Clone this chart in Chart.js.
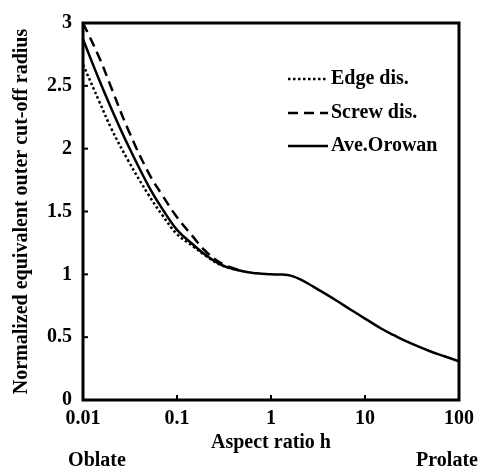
<!DOCTYPE html>
<html><head><meta charset="utf-8">
<script src="https://cdn.jsdelivr.net/npm/chart.js@4"></script>
<style>html,body{margin:0;padding:0;background:#fff}#wrap{width:483px;height:472px}</style>
</head><body><div id="wrap"><canvas id="c" width="483" height="472"></canvas></div>
<script>
const aspectRatios = [0.01,0.015,0.02,0.03,0.05,0.07,0.1,0.15,0.2,0.3,0.5,0.7,1,1.25,1.5,1.75,2,2.5,3,5,7,10,15,20,30,50,70,100];
const orowanValues = [2.87,2.54,2.32,2.03,1.70,1.52,1.354,1.233,1.156,1.074,1.025,1.008,1.0,0.999,0.995,0.982,0.963,0.925,0.89,0.79,0.72,0.648,0.567,0.518,0.454,0.386,0.348,0.308];
const edgeValues = [2.67,2.37,2.16,1.91,1.63,1.47,1.32,1.22,1.15,1.07,1.025];
const screwValues = [3.0,2.72,2.485,2.157,1.805,1.628,1.455,1.294,1.186,1.085,1.025];
const xTickValues = [0.01,0.1,1,10,100];
const xTickLabels = ['0.01','0.1','1','10','100'];
const yTickLabels = ['0','0.5','1','1.5','2','2.5','3'];
const seriesNames = ['Edge dis.','Screw dis.','Ave.Orowan'];
const xTitle = 'Aspect ratio h';
const yTitle = 'Normalized equivalent outer cut-off radius';
const endLabels = ['Oblate','Prolate'];

const FONT = 'Liberation Serif';
Chart.defaults.font.family = FONT;
Chart.defaults.font.weight = 'bold';
Chart.defaults.font.size = 20;
Chart.defaults.color = '#000';

const pts = (vals) => vals.map((v,i)=>({x:aspectRatios[i], y:v}));

const decor = {
  id:'decor',
  afterDatasetsDraw(chart){
    const {ctx, chartArea:a, scales:{x,y}} = chart;
    ctx.save();
    ctx.strokeStyle='#000';
    ctx.lineWidth=3;
    ctx.strokeRect(a.left,a.top,a.right-a.left,a.bottom-a.top);
    ctx.lineWidth=2;
    xTickValues.forEach(v=>{const px=x.getPixelForValue(v); ctx.beginPath(); ctx.moveTo(px,a.bottom); ctx.lineTo(px,a.bottom-5); ctx.stroke();});
    y.ticks.forEach(t=>{const py=y.getPixelForValue(t.value); ctx.beginPath(); ctx.moveTo(a.left,py); ctx.lineTo(a.left+5,py); ctx.stroke();});
    const rows=[a.top+56,a.top+90,a.top+123];
    chart.data.datasets.forEach((ds,i)=>{
      ctx.save();
      ctx.lineWidth=ds.borderWidth;
      ctx.setLineDash(ds.borderDash||[]);
      ctx.beginPath(); ctx.moveTo(a.left+205,rows[i]); ctx.lineTo(a.left+245,rows[i]); ctx.stroke();
      ctx.restore();
      ctx.fillStyle='#000';
      ctx.font='bold 20px "'+FONT+'"';
      ctx.textAlign='left'; ctx.textBaseline='middle';
      ctx.fillText(ds.label,a.left+248,rows[i]);
    });
    ctx.font='bold 20px "'+FONT+'"';
    ctx.textAlign='center'; ctx.textBaseline='middle';
    ctx.fillText(endLabels[0],97,461);
    ctx.fillText(endLabels[1],447,461);
    ctx.restore();
  }
};

new Chart(document.getElementById('c'),{
  type:'line',
  data:{datasets:[
    {label:seriesNames[0],data:pts(edgeValues),borderColor:'#000',borderWidth:2.5,borderDash:[2.5,2.5],pointRadius:0,tension:0.4,fill:false},
    {label:seriesNames[1],data:pts(screwValues),borderColor:'#000',borderWidth:2.5,borderDash:[10,6],pointRadius:0,tension:0.4,fill:false},
    {label:seriesNames[2],data:pts(orowanValues),borderColor:'#000',borderWidth:2.5,pointRadius:0,tension:0.4,fill:false}
  ]},
  options:{
    responsive:false,animation:false,
    layout:{padding:{left:0,right:24,top:12,bottom:0}},
    plugins:{legend:{display:false},tooltip:{enabled:false}},
    scales:{
      x:{type:'logarithmic',min:0.01,max:100,
        afterBuildTicks:(s)=>{s.ticks=xTickValues.map(v=>({value:v}));},
        afterFit:(s)=>{s.height=72;},
        grid:{display:false,drawTicks:false},border:{display:false},
        ticks:{autoSkip:false,maxRotation:0,padding:7,callback:(v,i)=>xTickLabels[i]},
        title:{display:true,text:xTitle,padding:{top:0,bottom:17}}
      },
      y:{min:0,max:3,
        afterBuildTicks:(s)=>{s.ticks=yTickLabels.map(t=>({value:parseFloat(t)}));},
        afterFit:(s)=>{s.width=83;},
        grid:{display:false,drawTicks:false},border:{display:false},
        ticks:{padding:11,callback:(v,i)=>yTickLabels[i]},
        title:{display:true,text:yTitle,padding:{top:10,bottom:0}}
      }
    }
  },
  plugins:[decor]
});
</script></body></html>
